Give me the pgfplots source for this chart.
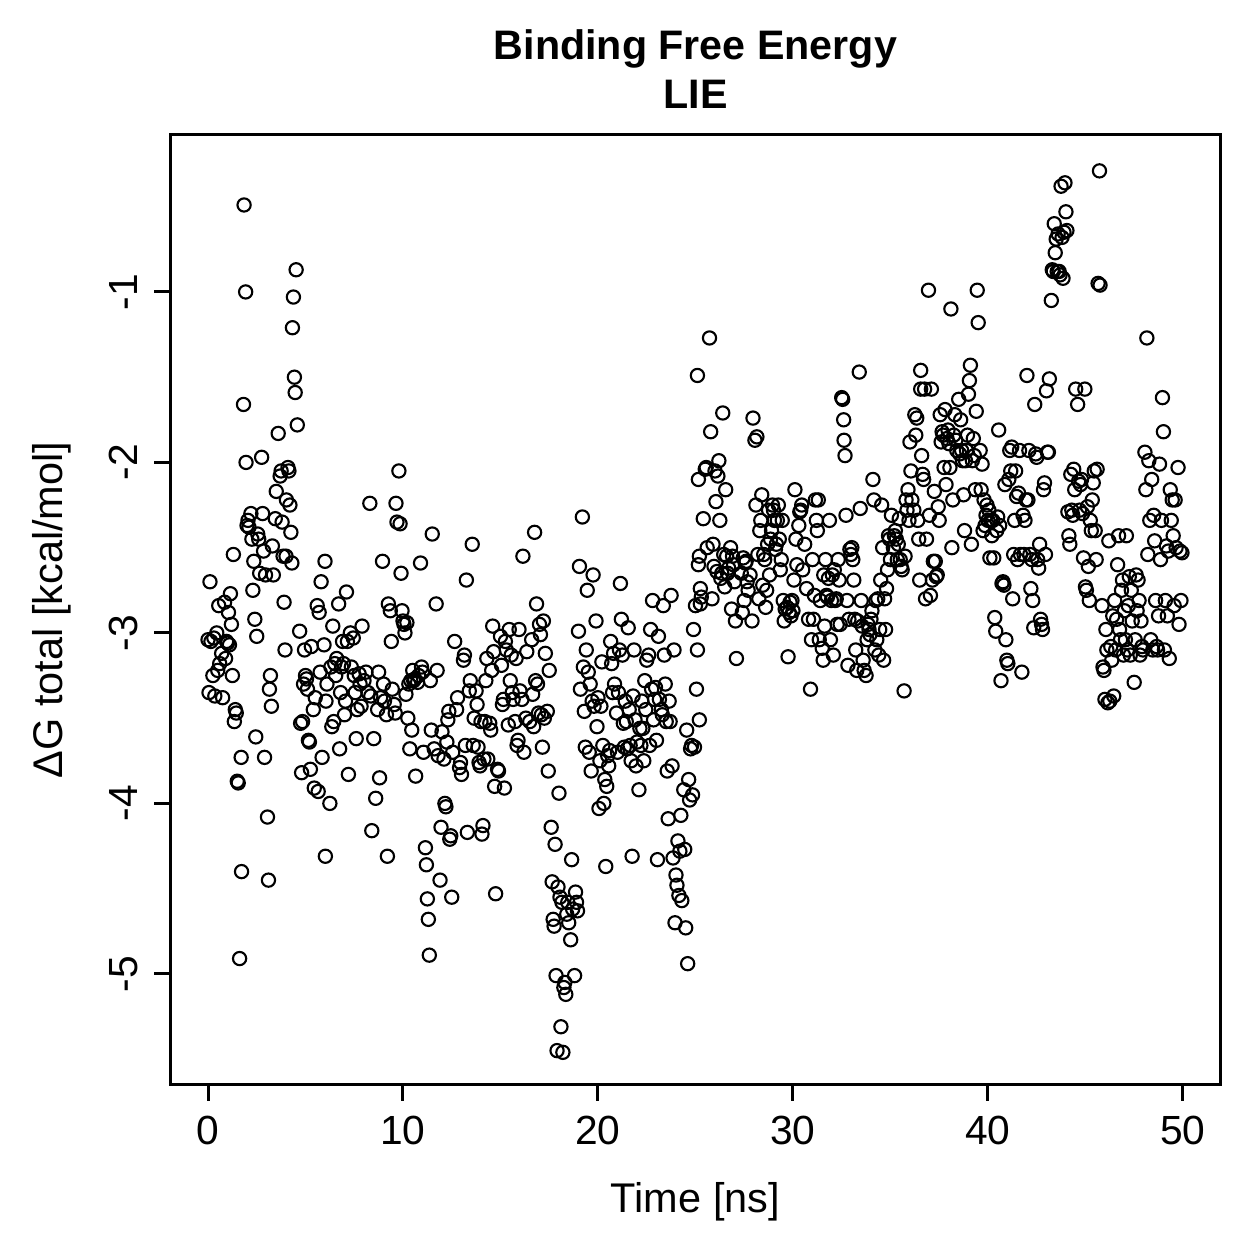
\documentclass[border=0pt]{standalone}
\usepackage{fontspec}
\setmainfont{Liberation Sans}
\usepackage{pgfplots}
\pgfplotsset{compat=1.18}
\pgfplotstableread{
x y
0.00 -3.04
0.05 -3.35
0.10 -2.70
0.15 -3.05
0.25 -3.25
0.30 -3.03
0.35 -3.37
0.45 -3.00
0.50 -3.22
0.55 -2.84
0.60 -3.18
0.70 -3.12
0.75 -3.38
0.85 -2.82
0.90 -3.15
0.95 -3.05
1.00 -3.06
1.05 -2.88
1.10 -3.07
1.15 -2.77
1.20 -2.95
1.25 -3.25
1.30 -2.54
1.35 -3.52
1.40 -3.45
1.45 -3.47
1.50 -3.87
1.55 -3.88
1.62 -4.91
1.72 -4.40
1.70 -3.73
1.82 -1.66
1.85 -0.49
1.93 -1.00
1.95 -2.00
2.00 -2.37
2.05 -2.34
2.10 -2.38
2.20 -2.30
2.25 -2.45
2.30 -2.75
2.35 -2.58
2.40 -2.92
2.45 -3.61
2.50 -3.02
2.55 -2.42
2.60 -2.45
2.65 -2.65
2.75 -1.97
2.80 -2.30
2.85 -2.52
2.90 -3.73
2.95 -2.66
3.05 -4.08
3.10 -4.45
3.15 -3.33
3.20 -3.25
3.25 -3.43
3.30 -2.49
3.35 -2.66
3.45 -2.33
3.50 -2.17
3.60 -1.83
3.70 -2.08
3.75 -2.05
3.80 -2.35
3.85 -2.55
3.90 -2.82
3.95 -3.10
4.00 -2.55
4.02 -2.22
4.10 -2.03
4.15 -2.05
4.20 -2.25
4.25 -2.41
4.30 -2.59
4.33 -1.21
4.38 -1.03
4.43 -1.50
4.47 -1.59
4.52 -0.87
4.58 -1.78
4.70 -2.99
4.75 -3.53
4.80 -3.82
4.85 -3.52
4.90 -3.30
4.95 -3.10
5.00 -3.25
5.05 -3.27
5.10 -3.33
5.15 -3.63
5.20 -3.64
5.25 -3.80
5.30 -3.08
5.40 -3.45
5.45 -3.91
5.50 -3.38
5.60 -2.84
5.65 -3.93
5.70 -2.88
5.75 -3.23
5.80 -2.70
5.85 -3.73
5.95 -3.07
6.00 -2.58
6.02 -4.31
6.05 -3.40
6.10 -3.30
6.25 -4.00
6.30 -3.20
6.35 -3.55
6.40 -2.96
6.45 -3.52
6.50 -3.18
6.55 -3.25
6.60 -3.15
6.70 -2.83
6.75 -3.68
6.80 -3.35
6.85 -3.20
6.90 -3.05
6.95 -3.18
7.00 -3.48
7.05 -3.40
7.10 -2.76
7.15 -3.05
7.20 -3.83
7.30 -3.00
7.35 -3.20
7.45 -3.03
7.50 -3.25
7.55 -3.35
7.60 -3.62
7.65 -3.45
7.75 -3.24
7.80 -3.30
7.85 -3.43
7.90 -2.96
8.00 -3.28
8.10 -3.23
8.20 -3.35
8.30 -2.24
8.35 -3.37
8.40 -4.16
8.50 -3.62
8.60 -3.97
8.70 -3.45
8.75 -3.23
8.80 -3.85
8.85 -3.38
8.95 -2.58
9.00 -3.30
9.05 -3.40
9.15 -3.48
9.20 -4.31
9.25 -2.83
9.35 -2.87
9.40 -3.05
9.45 -3.33
9.55 -3.42
9.60 -3.47
9.64 -2.24
9.69 -2.35
9.79 -2.05
9.85 -2.36
9.90 -2.65
9.95 -2.87
10.00 -2.93
10.05 -2.95
10.10 -3.00
10.15 -3.36
10.20 -2.94
10.25 -3.50
10.30 -3.30
10.35 -3.68
10.40 -3.28
10.45 -3.57
10.50 -3.22
10.55 -3.28
10.60 -3.27
10.65 -3.84
10.75 -3.29
10.80 -3.25
10.90 -2.59
10.95 -3.20
11.00 -3.23
11.05 -3.70
11.15 -4.26
11.20 -4.36
11.25 -4.56
11.30 -4.68
11.35 -4.89
11.40 -3.28
11.45 -3.57
11.50 -2.42
11.60 -3.68
11.70 -2.83
11.75 -3.22
11.80 -3.72
11.90 -4.45
11.95 -4.14
12.00 -3.58
12.10 -3.74
12.15 -4.00
12.20 -4.02
12.25 -3.64
12.30 -3.51
12.35 -3.46
12.40 -4.21
12.45 -4.19
12.50 -4.55
12.55 -3.70
12.65 -3.05
12.75 -3.45
12.80 -3.38
12.90 -3.79
12.95 -3.76
13.00 -3.83
13.10 -3.16
13.15 -3.13
13.20 -3.66
13.25 -2.69
13.30 -4.17
13.40 -3.34
13.45 -3.28
13.55 -2.48
13.60 -3.66
13.65 -3.50
13.75 -3.34
13.80 -3.42
13.85 -3.67
13.90 -3.76
13.95 -3.78
14.00 -3.52
14.05 -4.18
14.10 -4.13
14.15 -3.74
14.20 -3.52
14.25 -3.28
14.30 -3.15
14.35 -3.74
14.45 -3.53
14.50 -3.57
14.55 -3.22
14.60 -2.96
14.65 -3.11
14.70 -3.90
14.75 -4.53
14.85 -3.80
14.90 -3.81
15.00 -3.02
15.05 -3.19
15.10 -3.42
15.15 -3.39
15.20 -3.91
15.25 -3.05
15.30 -3.10
15.40 -3.54
15.45 -2.98
15.50 -3.28
15.55 -3.13
15.60 -3.35
15.65 -3.39
15.75 -3.52
15.80 -3.15
15.85 -3.66
15.90 -3.63
15.95 -2.98
16.00 -3.34
16.10 -3.39
16.15 -2.55
16.20 -3.70
16.30 -3.50
16.35 -3.11
16.50 -3.52
16.60 -3.04
16.65 -3.36
16.70 -3.55
16.75 -2.41
16.80 -3.28
16.85 -2.83
16.90 -3.30
16.95 -3.47
17.00 -2.95
17.05 -3.01
17.10 -3.48
17.15 -3.67
17.20 -2.93
17.25 -3.50
17.30 -3.12
17.40 -3.46
17.45 -3.81
17.50 -3.22
17.60 -4.14
17.65 -4.46
17.70 -4.68
17.75 -4.72
17.80 -4.24
17.85 -5.01
17.90 -5.45
17.95 -4.49
18.00 -3.94
18.05 -4.55
18.10 -5.31
18.15 -4.58
18.20 -5.46
18.25 -5.08
18.30 -5.05
18.35 -5.12
18.40 -4.65
18.45 -4.58
18.50 -4.70
18.60 -4.80
18.65 -4.33
18.70 -4.62
18.80 -5.01
18.85 -4.52
18.90 -4.58
18.95 -4.63
19.00 -2.99
19.05 -2.61
19.10 -3.33
19.20 -2.32
19.25 -3.20
19.30 -3.46
19.35 -3.67
19.40 -3.10
19.45 -2.75
19.50 -3.23
19.55 -3.70
19.60 -3.30
19.65 -3.81
19.70 -3.40
19.75 -2.66
19.80 -3.43
19.90 -2.93
19.95 -3.55
20.00 -3.38
20.05 -4.03
20.10 -3.75
20.15 -3.43
20.20 -3.17
20.25 -3.66
20.30 -4.00
20.35 -3.86
20.40 -4.37
20.45 -3.90
20.50 -3.72
20.55 -3.78
20.60 -3.69
20.65 -3.05
20.70 -3.18
20.75 -3.35
20.80 -3.12
20.85 -3.30
20.95 -3.47
21.00 -3.70
21.05 -3.35
21.10 -3.10
21.15 -2.71
21.20 -2.92
21.25 -3.13
21.30 -3.53
21.35 -3.67
21.40 -3.40
21.45 -3.52
21.50 -3.68
21.55 -2.97
21.60 -3.45
21.65 -3.66
21.70 -3.75
21.75 -4.31
21.80 -3.37
21.85 -3.10
21.90 -3.51
21.95 -3.78
22.00 -3.64
22.10 -3.92
22.15 -3.56
22.20 -3.66
22.25 -3.40
22.30 -3.56
22.35 -3.75
22.40 -3.28
22.45 -3.45
22.50 -3.16
22.60 -3.13
22.65 -3.66
22.70 -2.98
22.75 -3.33
22.80 -2.81
22.85 -3.51
22.90 -3.39
22.95 -3.32
23.00 -3.63
23.05 -4.33
23.10 -3.02
23.15 -3.39
23.25 -3.45
23.30 -3.48
23.35 -2.84
23.40 -3.13
23.45 -3.30
23.50 -3.52
23.55 -3.81
23.60 -4.09
23.65 -3.40
23.70 -3.52
23.75 -2.78
23.80 -3.78
23.85 -4.32
23.90 -3.10
23.95 -4.70
24.00 -4.42
24.05 -4.48
24.10 -4.22
24.15 -4.54
24.20 -4.28
24.25 -4.07
24.30 -4.57
24.40 -3.92
24.45 -4.27
24.50 -4.73
24.55 -3.57
24.60 -4.94
24.65 -3.86
24.70 -3.98
24.75 -3.68
24.80 -3.66
24.85 -3.95
24.90 -2.98
24.95 -3.67
25.00 -2.84
25.05 -3.33
25.10 -3.10
25.15 -2.60
25.20 -3.51
25.25 -2.83
25.10 -1.49
25.15 -2.10
25.20 -2.55
25.25 -2.74
25.30 -2.79
25.40 -2.33
25.50 -2.04
25.55 -2.03
25.60 -2.50
25.72 -1.27
25.78 -1.82
25.85 -2.80
25.90 -2.48
25.95 -2.61
26.00 -2.05
26.05 -2.23
26.10 -2.64
26.15 -2.08
26.20 -1.99
26.25 -2.34
26.30 -2.68
26.35 -2.65
26.40 -1.71
26.45 -2.54
26.50 -2.73
26.55 -2.16
26.60 -2.55
26.65 -2.65
26.70 -2.62
26.80 -2.50
26.85 -2.86
26.90 -2.55
26.95 -2.60
27.00 -2.70
27.05 -2.93
27.10 -3.15
27.35 -2.65
27.40 -2.88
27.45 -2.56
27.50 -2.81
27.55 -2.59
27.60 -2.58
27.65 -2.70
27.70 -2.75
27.80 -2.66
27.90 -2.93
27.95 -1.74
28.05 -1.87
28.10 -2.25
28.15 -1.85
28.20 -2.54
28.25 -2.80
28.30 -2.40
28.35 -2.34
28.40 -2.19
28.45 -2.72
28.50 -2.54
28.55 -2.57
28.60 -2.85
28.65 -2.75
28.70 -2.48
28.75 -2.28
28.80 -2.66
28.85 -2.45
28.90 -2.40
28.95 -2.25
29.00 -2.28
29.05 -2.34
29.10 -2.51
29.15 -2.48
29.20 -2.34
29.25 -2.25
29.30 -2.45
29.35 -2.63
29.40 -2.57
29.45 -2.34
29.50 -2.81
29.55 -2.93
29.60 -2.86
29.70 -2.85
29.75 -3.14
29.80 -2.88
29.85 -2.82
29.90 -2.90
29.95 -2.81
30.00 -2.87
30.05 -2.69
30.10 -2.16
30.15 -2.45
30.20 -2.60
30.30 -2.37
30.35 -2.29
30.40 -2.28
30.45 -2.25
30.50 -2.63
30.60 -2.48
30.70 -2.74
30.80 -2.92
30.90 -3.33
30.95 -3.04
31.00 -2.57
31.05 -2.92
31.10 -2.78
31.15 -2.22
31.20 -2.34
31.25 -2.40
31.30 -2.22
31.35 -3.04
31.40 -2.81
31.50 -3.09
31.55 -3.16
31.58 -2.66
31.62 -2.96
31.67 -2.57
31.72 -2.78
31.77 -2.79
31.82 -2.68
31.87 -2.34
31.92 -3.04
31.97 -2.81
32.02 -2.66
32.07 -3.13
32.12 -2.63
32.17 -2.81
32.22 -2.80
32.27 -2.95
32.32 -2.57
32.37 -2.69
32.42 -2.95
32.50 -1.62
32.55 -1.63
32.60 -1.75
32.62 -1.87
32.67 -1.96
32.72 -2.31
32.77 -2.81
32.82 -3.19
32.87 -2.92
32.92 -2.51
32.97 -2.54
33.02 -2.50
33.07 -2.57
33.12 -2.69
33.17 -2.92
33.22 -3.10
33.27 -3.22
33.32 -2.93
33.40 -1.47
33.45 -2.27
33.50 -2.81
33.55 -2.96
33.60 -3.16
33.65 -3.22
33.75 -3.25
33.80 -3.04
33.85 -2.95
33.90 -2.98
33.95 -3.01
34.00 -2.92
34.05 -2.87
34.10 -2.10
34.15 -2.22
34.20 -3.10
34.25 -2.81
34.30 -3.04
34.35 -2.80
34.40 -3.13
34.45 -2.98
34.50 -2.69
34.55 -2.25
34.60 -2.50
34.65 -3.16
34.70 -2.80
34.75 -2.98
34.80 -2.74
34.85 -2.63
34.90 -2.43
34.95 -2.45
35.00 -2.57
35.05 -2.31
35.15 -2.50
35.20 -2.43
35.25 -2.40
35.30 -2.45
35.35 -2.57
35.40 -2.48
35.45 -2.33
35.50 -2.57
35.55 -2.61
35.60 -2.63
35.70 -3.34
35.75 -2.55
35.80 -2.22
35.85 -2.28
35.90 -2.16
35.95 -2.34
36.00 -1.88
36.05 -2.05
36.10 -2.22
36.20 -2.28
36.25 -1.72
36.30 -1.84
36.35 -1.74
36.40 -2.34
36.45 -2.45
36.50 -2.69
36.55 -1.46
36.55 -1.57
36.60 -1.96
36.65 -2.07
36.70 -2.10
36.75 -1.57
36.80 -2.80
36.85 -2.45
36.95 -0.99
37.00 -2.31
37.05 -2.78
37.10 -1.57
37.15 -2.69
37.20 -2.58
37.25 -2.17
37.30 -2.58
37.35 -2.67
37.40 -2.66
37.45 -2.26
37.50 -2.34
37.55 -1.72
37.60 -1.88
37.65 -1.82
37.70 -1.84
37.75 -2.03
37.80 -1.69
37.85 -2.13
37.90 -1.86
37.95 -1.81
38.00 -1.89
38.05 -2.03
38.10 -1.10
38.15 -2.50
38.20 -2.22
38.25 -1.84
38.30 -1.72
38.35 -1.87
38.40 -1.93
38.50 -1.63
38.55 -1.95
38.60 -1.75
38.65 -1.93
38.70 -1.99
38.75 -2.19
38.80 -2.40
38.85 -1.99
38.90 -1.93
38.95 -1.84
39.00 -1.60
39.05 -1.52
39.10 -1.43
39.15 -2.48
39.20 -1.99
39.25 -1.86
39.30 -1.96
39.35 -2.16
39.40 -1.70
39.45 -0.99
39.50 -1.18
39.60 -1.93
39.65 -2.16
39.70 -2.01
39.75 -2.40
39.80 -2.22
39.85 -2.37
39.90 -2.31
39.95 -2.25
40.00 -2.34
40.05 -2.28
40.10 -2.56
40.15 -2.34
40.20 -2.43
40.25 -2.34
40.30 -2.56
40.35 -2.91
40.40 -2.99
40.45 -2.40
40.50 -2.32
40.55 -1.81
40.60 -2.37
40.67 -3.28
40.72 -2.71
40.77 -2.70
40.82 -2.72
40.87 -2.13
40.92 -3.04
40.97 -3.16
41.02 -3.18
41.07 -2.10
41.12 -1.93
41.17 -2.05
41.22 -1.91
41.27 -2.80
41.32 -2.54
41.37 -2.34
41.42 -2.05
41.47 -2.20
41.52 -2.57
41.57 -2.18
41.62 -1.93
41.67 -2.54
41.74 -3.23
41.80 -2.31
41.85 -2.54
41.90 -2.34
41.95 -2.22
42.00 -1.49
42.05 -2.22
42.10 -1.93
42.15 -2.54
42.20 -2.74
42.25 -2.57
42.30 -2.81
42.35 -2.97
42.40 -1.66
42.45 -1.95
42.50 -1.97
42.55 -2.57
42.60 -2.62
42.65 -2.48
42.70 -2.92
42.75 -2.95
42.80 -2.98
42.85 -2.16
42.90 -2.12
42.95 -2.54
43.00 -1.58
43.05 -1.94
43.10 -1.94
43.15 -1.51
43.25 -1.05
43.30 -0.87
43.35 -0.88
43.40 -0.60
43.45 -0.77
43.50 -0.69
43.55 -0.88
43.60 -0.66
43.65 -0.88
43.70 -0.90
43.75 -0.38
43.80 -0.68
43.85 -0.92
43.90 -0.65
43.95 -0.36
44.00 -0.53
44.05 -0.64
44.10 -2.29
44.15 -2.43
44.20 -2.48
44.25 -2.07
44.30 -2.28
44.35 -2.31
44.40 -2.04
44.45 -2.16
44.50 -1.57
44.60 -1.66
44.65 -2.11
44.70 -2.28
44.75 -2.13
44.80 -2.10
44.85 -2.30
44.90 -2.56
44.97 -1.57
45.00 -2.73
45.05 -2.75
45.10 -2.26
45.15 -2.61
45.20 -2.81
45.25 -2.34
45.30 -2.40
45.35 -2.22
45.40 -2.12
45.45 -2.05
45.50 -2.40
45.55 -2.57
45.60 -2.04
45.65 -0.95
45.72 -0.29
45.75 -0.96
45.85 -2.84
45.90 -3.20
45.95 -3.22
46.00 -3.39
46.05 -2.98
46.10 -3.10
46.15 -3.41
46.20 -2.46
46.25 -3.40
46.30 -3.08
46.35 -3.16
46.40 -2.90
46.45 -3.37
46.50 -2.81
46.55 -3.10
46.60 -2.92
46.65 -2.60
46.70 -2.43
46.75 -2.98
46.80 -3.04
46.85 -2.75
46.90 -2.69
46.95 -3.13
47.00 -2.87
47.05 -3.04
47.10 -2.43
47.15 -3.10
47.20 -2.84
47.25 -2.67
47.30 -3.13
47.35 -2.75
47.40 -2.93
47.50 -3.29
47.55 -3.04
47.60 -2.66
47.65 -2.87
47.70 -2.69
47.75 -2.81
47.80 -3.13
47.85 -2.93
47.90 -3.08
47.95 -3.10
48.05 -1.94
48.10 -2.16
48.15 -1.27
48.20 -2.54
48.25 -1.99
48.30 -2.34
48.35 -3.04
48.40 -2.10
48.45 -3.10
48.50 -2.31
48.55 -2.46
48.60 -2.81
48.65 -3.08
48.70 -3.10
48.75 -2.90
48.80 -2.01
48.85 -2.57
48.90 -2.34
48.95 -1.62
49.00 -1.82
49.05 -3.10
49.10 -2.81
49.15 -2.49
49.20 -2.90
49.25 -2.52
49.30 -3.15
49.35 -2.16
49.40 -2.34
49.45 -2.22
49.50 -2.43
49.55 -2.84
49.60 -2.22
49.65 -2.50
49.75 -2.03
49.80 -2.95
49.85 -2.52
49.90 -2.81
49.95 -2.53
}\lie
\begin{document}
\begin{tikzpicture}
\useasboundingbox (-68.06pt,-69.7pt) rectangle (435.9pt,434.3pt);
\begin{axis}[
  at={(0pt,0pt)}, anchor=south west,
  scale only axis, width=420.7pt, height=380.3pt,
  xmin=-1.949, xmax=51.949, ymin=-5.651, ymax=-0.079,
  xtick={0,10,20,30,40,50}, xticklabels={0,10,20,30,40,50},
  ytick={-5,-4,-3,-2,-1}, yticklabels={-5,-4,-3,-2,-1},
  tick align=outside, xtick pos=bottom, ytick pos=left,
  major tick length=6.4pt,
  axis line style={line width=1.2pt},
  every tick/.style={black, line width=1.2pt},
  tick label style={font=\fontsize{16.3}{19}\selectfont},
  yticklabel style={rotate=90, anchor=south},
  xticklabel shift=2.6pt, yticklabel shift=3pt,
  every axis title/.style={at={(axis description cs:0.5,1.0689)}, anchor=center, align=center, font=\bfseries\fontsize{16.5}{19.6}\selectfont},
  title={Binding Free Energy\\LIE},
  every axis x label/.style={at={(axis description cs:0.5,-0.1231)}, anchor=center, font=\fontsize{16.6}{19}\selectfont},
  every axis y label/.style={at={(axis description cs:-0.1122,0.5)}, rotate=90, anchor=center, font=\fontsize{16.6}{19}\selectfont},
  xlabel={Time [ns]},
  ylabel={ΔG total [kcal/mol]},
]
\addplot[only marks, mark=o, mark size=2.65pt, mark options={line width=0.85pt, black}] table[x=x, y=y] {\lie};
\end{axis}
\end{tikzpicture}
\end{document}
